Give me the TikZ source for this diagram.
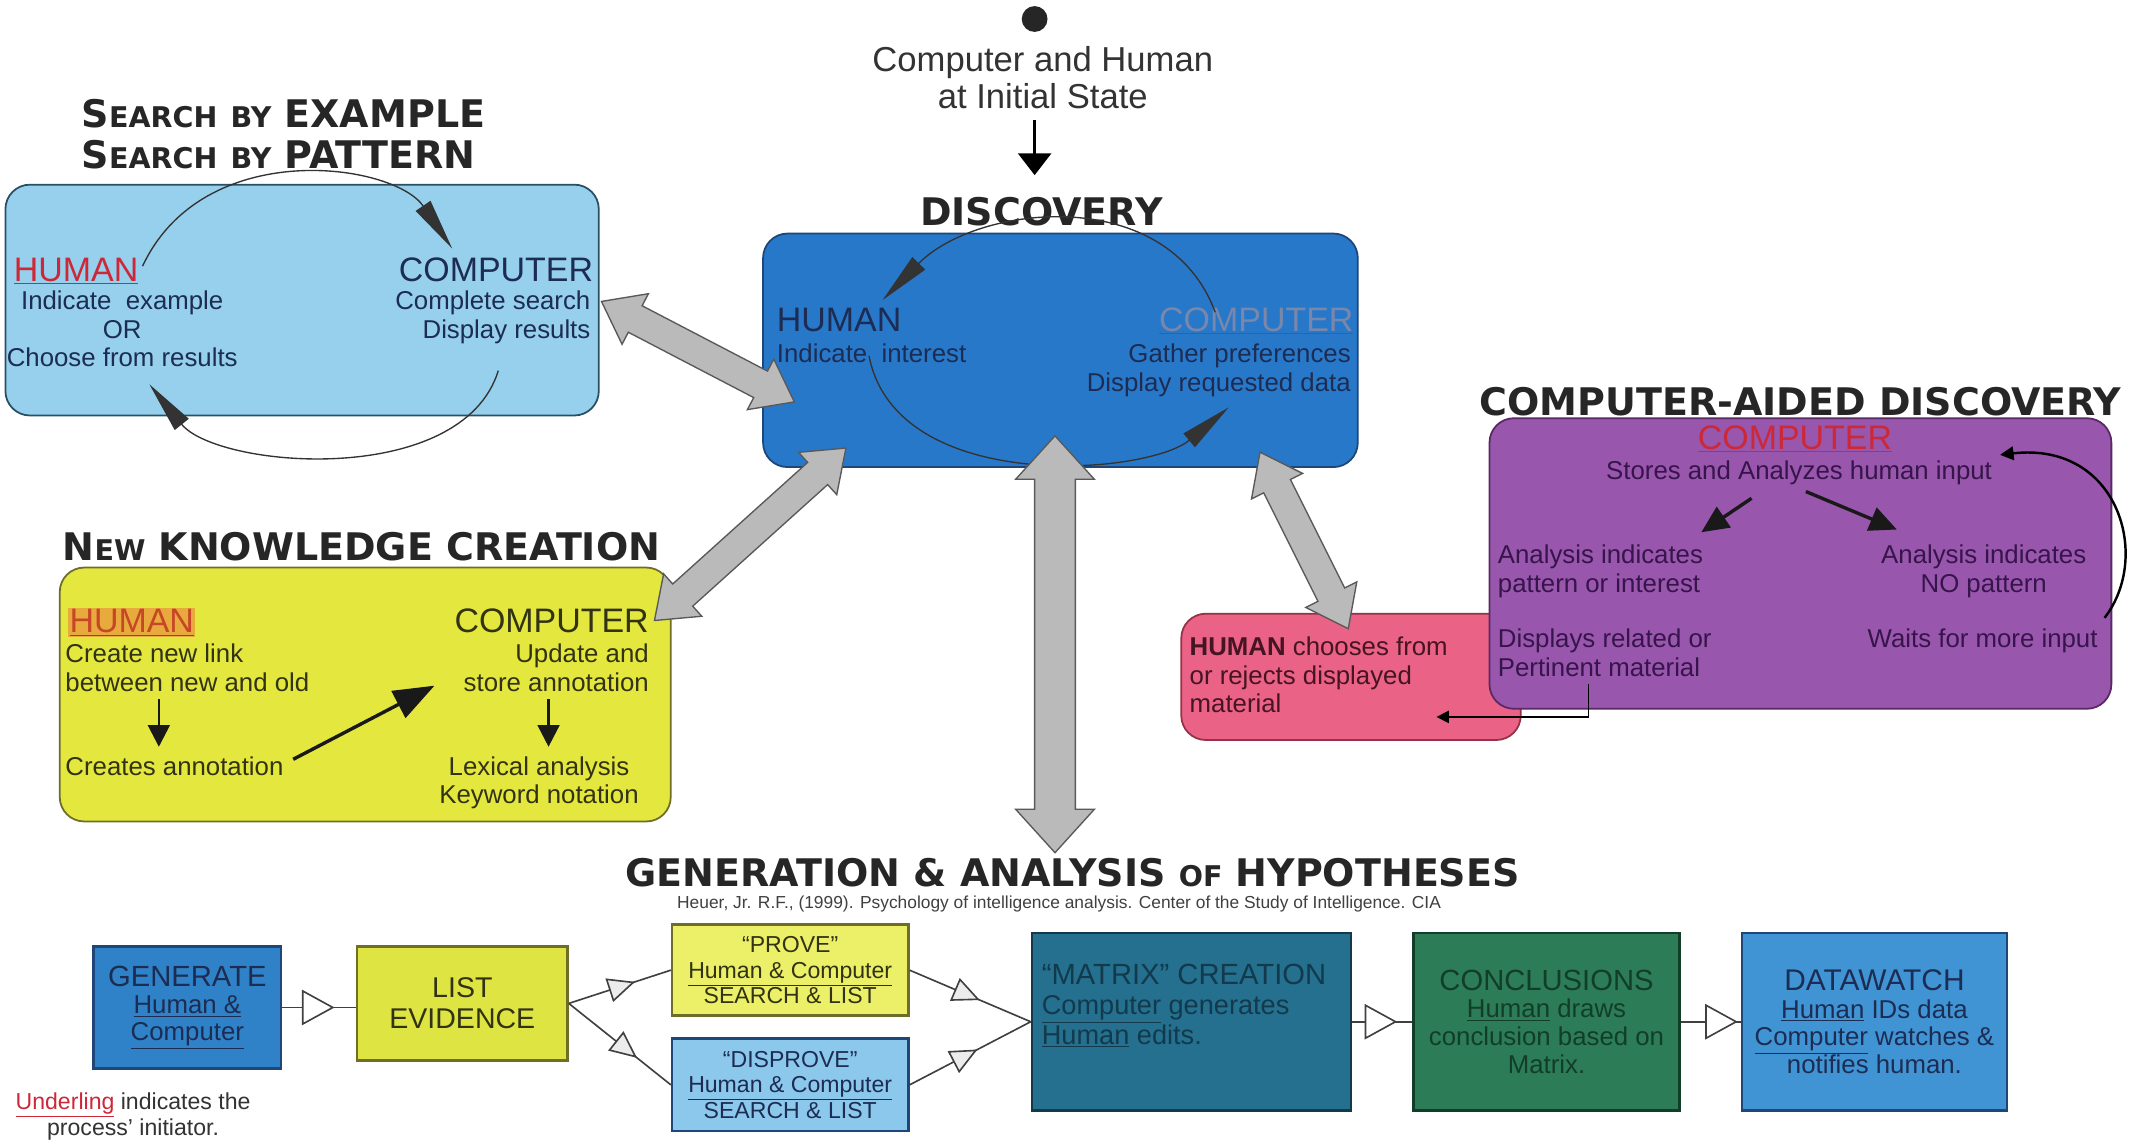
\documentclass[tikz,border=0pt]{standalone}
\usepackage{fontspec}
\setmainfont{Liberation Sans}
\newfontfamily\headfont{DejaVu Sans}
\usetikzlibrary{arrows.meta,calc,decorations.markings}

\definecolor{searchblue}{RGB}{150,208,236}
\definecolor{searchedge}{RGB}{40,80,100}
\definecolor{discblue}{RGB}{40,120,202}
\definecolor{discedge}{RGB}{30,70,120}
\definecolor{knowyellow}{RGB}{228,231,62}
\definecolor{knowedge}{RGB}{110,110,40}
\definecolor{humanpink}{RGB}{234,98,134}
\definecolor{pinkedge}{RGB}{150,50,70}
\definecolor{aidpurple}{RGB}{152,86,172}
\definecolor{aidedge}{RGB}{90,40,100}
\definecolor{genblue}{RGB}{48,130,200}
\definecolor{listyellow}{RGB}{222,228,66}
\definecolor{proveyellow}{RGB}{236,240,104}
\definecolor{disproveblue}{RGB}{140,200,236}
\definecolor{matrixteal}{RGB}{36,112,142}
\definecolor{conclgreen}{RGB}{44,124,88}
\definecolor{watchblue}{RGB}{64,148,212}
\definecolor{arrowgrey}{RGB}{186,186,186}
\definecolor{inkred}{RGB}{205,40,55}
\definecolor{inknavy}{RGB}{28,44,82}
\definecolor{discgrey}{RGB}{120,135,170}
\definecolor{humorange}{RGB}{200,70,40}
\definecolor{hlorange}{RGB}{232,170,60}
\definecolor{knowink}{RGB}{50,50,20}
\definecolor{pinkink}{RGB}{70,20,35}
\definecolor{aidink}{RGB}{55,20,75}
\definecolor{matrixink}{RGB}{18,58,76}
\definecolor{conclink}{RGB}{18,62,40}

\newcommand\bodyfont{\fontsize{19}{21}\selectfont}
\newcommand\headsize{\fontsize{25}{27}\selectfont}
\newcommand\titlesize{\headfont\bfseries\fontsize{28}{30}\selectfont}
\newcommand\smc[1]{{\fontsize{21}{21}\selectfont #1}}
\newcommand\ulc[3]{{\color{#1}\underline{\textcolor{#2}{#3}}}}
\newcommand\uln[1]{\underline{#1}}

% grey double arrow: from, to, shaft half width, head half width, head length
\newcommand\greyarrow[5]{%
  \draw[grey arrow] let \p1=(#1), \p2=(#2), \n1={atan2(\y2-\y1,\x2-\x1)}, \n2={veclen(\x2-\x1,\y2-\y1)} in
    [shift={(\p1)}, rotate=\n1]
    (0pt,0pt) -- (#5,#4) -- (#5,#3) -- (\n2-#5,#3) -- (\n2-#5,#4) -- (\n2,0pt)
    -- (\n2-#5,-#4) -- (\n2-#5,-#3) -- (#5,-#3) -- (#5,-#4) -- cycle;}

\begin{document}
\begin{tikzpicture}[x=1pt, y=-1pt,
  box/.style={draw, rounded corners=18pt, line width=1.3pt},
  stepbox/.style={draw, line width=1.8pt, align=center, inner sep=2pt, font=\bodyfont},
  txt/.style={inner sep=0pt, font=\bodyfont},
  head/.style={inner sep=0pt, font=\headsize},
  title/.style={inner sep=0pt, font=\titlesize, text=black!85},
  loop arrow/.style={line width=1pt, draw=black!80, -{Triangle[length=38pt,width=13pt]}},
  solid arrow/.style={line width=2pt, draw=black!90, -{Triangle[length=16pt,width=16pt]}},
  big arrow/.style={line width=2.5pt, draw=black!90, -{Triangle[length=30pt,width=22pt]}},
  grey arrow/.style={draw=black!65, fill=arrowgrey, line width=1pt},
  flow/.style={line width=1.2pt, draw=black!75, postaction={decorate},
    decoration={markings, mark=at position #1 with {\arrow{Triangle[length=24pt,width=26pt,fill=white]}}}},
  smallflow/.style={line width=1.2pt, draw=black!75, postaction={decorate},
    decoration={markings, mark=at position #1 with {\arrow{Triangle[length=20pt,width=18pt,fill=gray!15]}}}}]
\useasboundingbox (0,0) rectangle (1568,841);
\fill[white] (0,0) rectangle (1568,841);

% initial state
\node[circle, fill=black!85, minimum size=19pt, inner sep=0pt] (start) at (762,14) {};
\node[txt, font=\fontsize{25.5}{27}\selectfont, align=center, anchor=base, text=black!80] (init) at (768,80) {Computer and Human\\at Initial State};
\node[title, anchor=base] (disctitle) at (767,166) {DISCOVERY};
\draw[line width=2.5pt, -{Triangle[length=16pt,width=24pt]}] ([yshift=-8pt]init.south -| start) -- ([yshift=16pt]disctitle.north -| start);

% discovery
\node[box, fill=discblue, draw=discedge, minimum width=438pt, minimum height=172pt] (disc) at (781,258) {};
\node[head, anchor=base west, text=inknavy] (dhum) at (572,244) {HUMAN};
\node[txt, anchor=base west, text=inknavy] (dhumtxt) at (572,267) {Indicate\ \ interest};
\node[head, anchor=base east] (dcomp) at (997,244) {\ulc{inkred}{discgrey}{COMPUTER}};
\node[txt, anchor=base east, align=right, text=inknavy] (dcomptxt) at (995,288) {Gather preferences\\Display requested data};
\coordinate (dl0) at (895,230);
\coordinate (dl1) at (650,221);
\coordinate (dl2) at (640,262);
\coordinate (dl3) at (905,300);
\draw[loop arrow] (dl0) .. controls (860,135) and (720,150) .. (dl1);
\draw[loop arrow] (dl2) .. controls (660,365) and (845,350) .. (dl3);

% search by example
\node[title, anchor=base west, align=left] (searchtitle) at (60,124) {S\smc{EARCH} \smc{BY} EXAMPLE\\S\smc{EARCH} \smc{BY} PATTERN};
\node[box, fill=searchblue, draw=searchedge, minimum width=437pt, minimum height=170pt] (search) at (222.5,221) {};
\node[head, anchor=base west] (shum) at (10,207) {\ulc{inkred}{inkred}{HUMAN}};
\node[txt, anchor=base, align=center, text=inknavy] (shumtxt) at (90,270) {Indicate\ \ example\\OR\\Choose from results};
\node[head, anchor=base east, text=inknavy] (scomp) at (437,207) {COMPUTER};
\node[txt, anchor=base east, align=right, text=inknavy] (scomptxt) at (435,249) {Complete search\\Display results};
\coordinate (sl0) at (105,196);
\coordinate (sl1) at (333,183);
\coordinate (sl2) at (367,273);
\coordinate (sl3) at (110,283);
\draw[loop arrow] (sl0) .. controls (150,100) and (290,120) .. (sl1);
\draw[loop arrow] (sl2) .. controls (340,360) and (160,345) .. (sl3);

% new knowledge creation
\node[title, anchor=base west] (knowtitle) at (46,413) {N\smc{EW} KNOWLEDGE CREATION};
\node[box, fill=knowyellow, draw=knowedge, minimum width=450pt, minimum height=187pt] (know) at (269,511.5) {};
\node[head, anchor=base west, fill=hlorange, inner sep=1pt] (khum) at (50,466) {\ulc{inkred}{humorange}{HUMAN}};
\node[txt, anchor=base west, align=left, text=knowink] (khumtxt) at (48,509) {Create new link\\between new and old};
\node[txt, anchor=base west, text=knowink] (kann) at (48,571) {Creates annotation};
\node[head, anchor=base east, text=knowink] (kcomp) at (478,466) {COMPUTER};
\node[txt, anchor=base east, align=right, text=knowink] (kcomptxt) at (478,509) {Update and\\store annotation};
\node[txt, anchor=base, align=center, text=knowink] (klex) at (397,592) {Lexical analysis\\Keyword notation};
\coordinate (kd0) at (117,515);
\coordinate (kd1) at (117,550);
\coordinate (kd2) at (404,515);
\coordinate (kd3) at (404,550);
\coordinate (kup) at (320,505);
\draw[solid arrow] (kd0) -- (kd1);
\draw[solid arrow] (kd2) -- (kd3);
\draw[big arrow] ([xshift=7pt,yshift=5pt]kann.east) -- (kup);

% human chooses
\node[box, fill=humanpink, draw=pinkedge, minimum width=250pt, minimum height=93pt] (pink) at (995,498.5) {};
\node[txt, anchor=base west, align=left, text=pinkink] (pinktxt) at (876,525) {\textbf{HUMAN} chooses from\\or rejects displayed\\material};

% computer-aided discovery
\node[title, anchor=base] (aidtitle) at (1326,306) {COMPUTER-AIDED DISCOVERY};
\node[box, fill=aidpurple, draw=aidedge, minimum width=458pt, minimum height=214pt] (aid) at (1326,415) {};
\node[head, anchor=base] (acomp) at (1322,331) {\ulc{inkred}{inkred}{COMPUTER}};
\node[txt, anchor=base, text=aidink] (astore) at (1325,353) {Stores and Analyzes human input};
\node[txt, anchor=base west, align=left, text=aidink] (apat) at (1103,436) {Analysis indicates\\pattern or interest};
\node[txt, anchor=base, align=center, text=aidink] (anopat) at (1461,436) {Analysis indicates\\NO pattern};
\node[txt, anchor=base west, align=left, text=aidink] (adisp) at (1103,498) {Displays related or\\Pertinent material};
\node[txt, anchor=base east, text=aidink] (await) at (1545,477) {Waits for more input};
\coordinate (as0) at (1290,367);
\coordinate (as1) at (1253,392);
\coordinate (as2) at (1330,362);
\coordinate (as3) at (1397,390);
\coordinate (aw0) at (1550,455);
\coordinate (aw1) at (1473,335);
\coordinate (ap0) at (1170,504);
\coordinate (ap1) at (1058,528);
\draw[solid arrow, line width=2.5pt, -{Triangle[length=20pt,width=18pt]}] (as0) -- (as1);
\draw[solid arrow, line width=2.5pt, -{Triangle[length=20pt,width=18pt]}] (as2) -- (as3);
\draw[line width=1.8pt, -{Triangle[length=10pt,width=10pt]}] (aw0) .. controls (1585,410) and (1560,325) .. (aw1);
\draw[line width=1.2pt, -{Triangle[length=9pt,width=9pt]}] (ap0) |- (ap1);

% grey links
\coordinate (g1a) at (443,222);
\coordinate (g1b) at (585,296);
\coordinate (g2a) at (482,457);
\coordinate (g2b) at (623,330);
\coordinate (g3a) at (928,333);
\coordinate (g3b) at (993,463);
\coordinate (g4a) at (777,321);
\coordinate (g4b) at (777,628);
\greyarrow{g1a}{g1b}{11pt}{21pt}{28pt}
\greyarrow{g2a}{g2b}{11pt}{21pt}{28pt}
\greyarrow{g3a}{g3b}{11pt}{21pt}{28pt}
\greyarrow{g4a}{g4b}{15pt}{29pt}{32pt}

% generation and analysis of hypotheses
\node[title, anchor=base] (gentitle) at (790,653) {GENERATION \& ANALYSIS \smc{OF} HYPOTHESES};
\node[txt, font=\fontsize{12.8}{14}\selectfont, anchor=base, text=black!75] (cite) at (780,669) {Heuer, Jr. R.F., (1999). Psychology of intelligence analysis. Center of the Study of Intelligence. CIA};

\node[stepbox, fill=genblue, draw=discedge, text=inknavy, minimum width=138pt, minimum height=90pt, font=\fontsize{19}{20}\selectfont] (gen) at (138,742) {{\fontsize{21.5}{23}\selectfont GENERATE}\\\uln{Human \&}\\\uln{Computer}};
\node[stepbox, fill=listyellow, draw=knowedge, text=knowink, minimum width=155pt, minimum height=84pt, font=\fontsize{21}{23}\selectfont] (list) at (340.5,739) {LIST\\EVIDENCE};
\node[stepbox, fill=proveyellow, draw=knowedge, text=knowink, minimum width=174pt, minimum height=67pt, font=\fontsize{17}{19}\selectfont] (prove) at (582,714.5) {“PROVE”\\\uln{Human \& Computer}\\SEARCH \& LIST};
\node[stepbox, fill=disproveblue, draw=discedge, text=inknavy, minimum width=174pt, minimum height=68pt, font=\fontsize{17}{19}\selectfont] (disprove) at (582,799) {“DISPROVE”\\\uln{Human \& Computer}\\SEARCH \& LIST};
\node[stepbox, fill=matrixteal, draw=matrixink, minimum width=235pt, minimum height=131pt] (matrix) at (877.5,752.5) {};
\node[txt, anchor=north west, align=left, text=matrixink, font=\fontsize{20}{22}\selectfont] (matrixtxt) at ([xshift=8pt,yshift=-24pt]matrix.north west) {{\fontsize{21.5}{22}\selectfont “MATRIX” CREATION}\\\uln{Computer} generates\\\uln{Human} edits.};
\node[stepbox, fill=conclgreen, draw=conclink, text=conclink, minimum width=196pt, minimum height=131pt, font=\fontsize{19}{20.5}\selectfont] (concl) at (1139,752.5) {{\fontsize{21.5}{23}\selectfont CONCLUSIONS}\\\uln{Human} draws\\conclusion based on\\Matrix.};
\node[stepbox, fill=watchblue, draw=discedge, text=inknavy, minimum width=195pt, minimum height=131pt, font=\fontsize{19}{20.5}\selectfont] (watch) at (1380.5,752.5) {{\fontsize{22}{23}\selectfont DATAWATCH}\\\uln{Human} IDs data\\\uln{Computer} watches \&\\notifies human.};

\draw[flow=0.71] (gen.east) -- (gen.east -| list.west);
\draw[smallflow=0.65] (list.east) -- (prove.west);
\draw[smallflow=0.67] (list.east) -- (disprove.west);
\draw[smallflow=0.58] (prove.east) -- (matrix.west);
\draw[smallflow=0.56] (disprove.east) -- (matrix.west);
\draw[flow=0.75] (matrix.east) -- (concl.west);
\draw[flow=0.95] (concl.east) -- (watch.west);

\node[txt, font=\fontsize{17}{16}\selectfont, align=center, anchor=base, text=black!80] (note) at (98,836) {\ulc{inkred}{inkred}{Underling} indicates the\\process’ initiator.};
\end{tikzpicture}
\end{document}
